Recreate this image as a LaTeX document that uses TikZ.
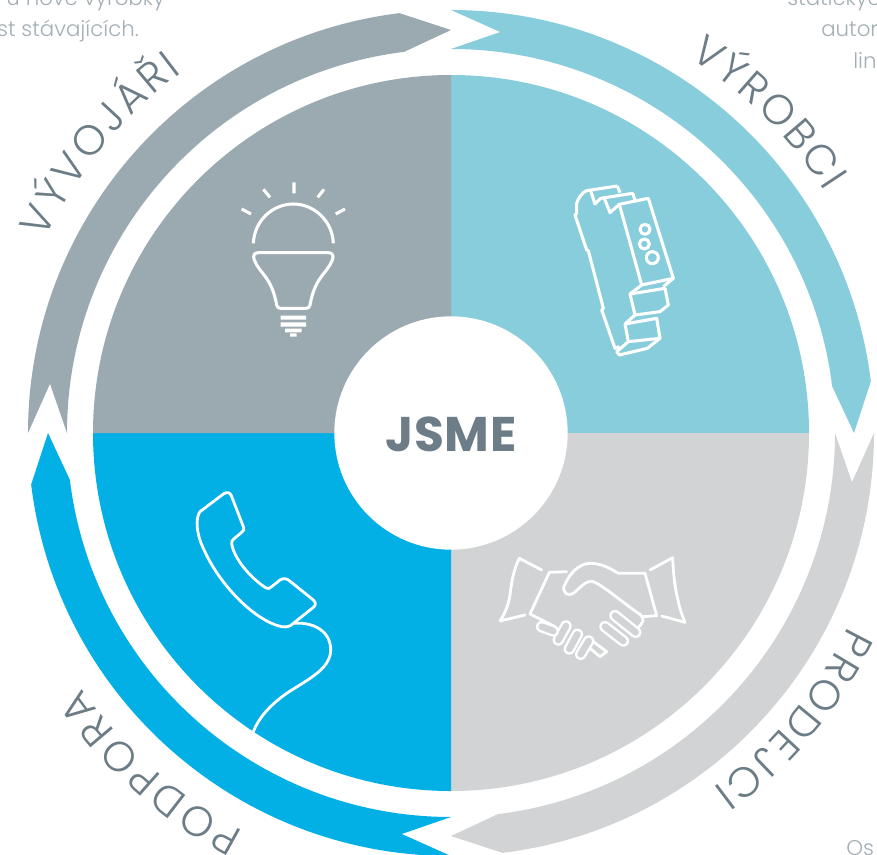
\documentclass[tikz,border=0pt]{standalone}
\usepackage{fontspec}
\usetikzlibrary{decorations.text}
\newfontfamily\lightf{Poppins}[UprightFont=* Light]
\newfontfamily\boldf{Poppins}[UprightFont=* Bold,LetterSpace=1.5]
\newcommand{\curvefont}{\lightf\fontsize{31.5}{34}\selectfont}
\definecolor{cgrey}{HTML}{9BAAB0}
\definecolor{cteal}{HTML}{88CDDB}
\definecolor{cblue}{HTML}{03B0E6}
\definecolor{clight}{HTML}{D1D3D4}
\definecolor{ctext}{HTML}{6C7D87}
\definecolor{cpara}{HTML}{A3AFB5}
\tikzset{
  icon/.style={draw=white,line width=2.3pt,line join=round,line cap=butt},
  iconthin/.style={draw=white,line width=2.1pt,line join=round,line cap=round},
  para/.style={inner sep=0pt,text=cpara,font=\lightf\fontsize{16}{18}\selectfont},
  curved/.style={decorate,decoration={text along path,text color=ctext,text align={fit to path},text={#1}}},
  finger/.style={draw=white,line width=8.6pt,line cap=round},
  fingerin/.style={draw=clight,line width=5pt,line cap=round},
}
\begin{document}
\begin{tikzpicture}[x=.75pt,y=-.75pt]
\useasboundingbox (0,0) rectangle (877,855);
\clip (0,0) rectangle (877,855);
\fill[white] (0,0) rectangle (877,855);
% paragraph fragments
\node[para,anchor=base east] (p1) at (165,6) {u nové výrobky};
\node[para,anchor=base east] (p2) at (139,37) {st stávajících.};
\node[para,anchor=base west] (p3) at (787,6) {statickýc};
\node[para,anchor=base west] (p4) at (821,37) {autor};
\node[para,anchor=base west] (p5) at (853,69) {lin};
\node[para,anchor=base west] (p6) at (846,855) {Os};
\begin{scope}[shift={(451,433)},y=.75pt]
  % quadrants
  \fill[cteal] (0,0) -- (90:358) arc (90:0:358) -- cycle;
  \fill[clight] (0,0) -- (0:358) arc (0:-90:358) -- cycle;
  \fill[cblue] (0,0) -- (-90:358) arc (-90:-180:358) -- cycle;
  \fill[cgrey] (0,0) -- (180:358) arc (180:90:358) -- cycle;
  % ring arrows
  \foreach \a/\c in {90/cteal,0/clight,-90/cblue,180/cgrey}{
    \fill[\c,rotate=\a] (0:423) arc (0:-83:423) -- (-90:403) -- (-83:384) arc (-83:0:384) -- (-7:404) -- cycle;
  }
  % curved labels
  \path[curved={|\curvefont|VÝVOJÁŘI}] (154.5:450) arc (154.5:126.7:450);
  \path[curved={|\curvefont|VÝROBCI}] (57.6:445) arc (57.6:32.8:445);
  \path[curved={|\curvefont|PRODEJCI}] (-26:442) arc (-26:-53.6:442);
  \path[curved={|\curvefont|PODPORA}] (242.5:449) arc (242.5:214.6:449);
\end{scope}
% centre
\node[circle,fill=white,minimum size=175pt,inner sep=0pt,text=ctext,font=\boldf\fontsize{36.5}{40}\selectfont] (jsme) at (451,433) {\raisebox{-14pt}[0pt][0pt]{JSME}};
% bulb
\begin{scope}[shift={(220,170)},scale=1/3]
  \draw[icon] (222,37) -- (222,70) (130,58) -- (150,82) (312,58) -- (293,82) (65,117) -- (93,132) (375,117) -- (347,132);
  \draw[icon] (100,220) .. controls (103,150) and (160,102) .. (220,102) .. controls (280,102) and (337,150) .. (340,220);
  \draw[icon] (115,248) -- (325,248) .. controls (338,248) and (342,258) .. (337,270)
     .. controls (322,310) and (285,320) .. (270,405) .. controls (268,412) and (265,415) .. (258,415)
     -- (182,415) .. controls (175,415) and (172,412) .. (170,405)
     .. controls (155,320) and (118,310) .. (103,270) .. controls (98,258) and (102,248) .. (115,248) -- cycle;
  \fill[white] (182,437) rectangle (258,449) (182,457) rectangle (258,470) (195,476) rectangle (245,487) (210,490) rectangle (230,500);
\end{scope}
% din module
\begin{scope}[shift={(560,170)},scale=1/3]
  \draw[icon] (172,48) -- (80,62) .. controls (65,68) and (55,85) .. (50,100) -- (50,130) -- (45,135) -- (80,240) -- (85,242) -- (130,415) -- (125,420) -- (165,535) -- (178,530);
  \draw[icon] (92,62) -- (105,102) -- (122,85) -- (218,70) -- (225,90);
  \draw[icon] (172,48) -- (180,68);
  \draw[icon] (133,85) -- (150,128) -- (178,103);
  \draw[icon] (178,103) -- (265,85) -- (340,325) -- (245,345) -- cycle;
  \draw[icon] (340,325) -- (310,350) (245,345) -- (210,372);
  \draw[icon] (210,372) -- (315,355) -- (325,405) -- (300,425) -- (225,435) -- cycle;
  \draw[icon] (225,435) -- (195,462) -- (205,515) -- (170,545) -- (178,555) -- (262,535) -- (300,505) -- (290,445) -- (195,462);
  \draw[icon] (205,515) -- (300,505);
  \draw[icon] (255,178) circle (15);
  \draw[icon] (253,222) circle (15);
  \draw[icon] (277,263) circle (18);
\end{scope}
% telephone
\begin{scope}[shift={(180,480)},scale=1/3]
  \draw[iconthin] (60,95) -- (130,42) .. controls (140,35) and (150,37) .. (154,47) -- (190,140)
    .. controls (193,150) and (190,153) .. (185,157) -- (160,178) .. controls (152,185) and (155,195) .. (160,210)
    .. controls (175,250) and (215,295) .. (255,322) .. controls (265,328) and (270,325) .. (275,320)
    -- (300,300) .. controls (310,294) and (320,295) .. (328,302) -- (400,360)
    .. controls (408,368) and (408,375) .. (400,382) -- (340,430) .. controls (330,440) and (320,442) .. (305,440)
    .. controls (230,425) and (120,320) .. (70,205) .. controls (50,165) and (45,115) .. (60,95) -- cycle;
  \draw[iconthin] (340,430) .. controls (395,425) and (455,450) .. (452,515)
    .. controls (447,570) and (380,600) .. (320,640) .. controls (270,675) and (235,715) .. (220,755);
\end{scope}
% handshake
\begin{scope}[shift={(490,545)},scale=1/3]
  \draw[iconthin] (155,75) -- (88,40) .. controls (70,75) and (65,110) .. (60,150) .. controls (55,180) and (45,205) .. (30,228) -- (105,210);
  \draw[iconthin] (480,75) -- (548,38) .. controls (550,90) and (555,130) .. (565,170) .. controls (570,195) and (578,215) .. (585,232) -- (515,213);
  \draw[iconthin] (230,80) -- (178,82) -- (120,207) -- (195,245);
  \draw[iconthin] (465,85) -- (385,85) .. controls (360,70) and (335,55) .. (300,55) .. controls (265,55) and (235,90) .. (222,125)
     .. controls (218,145) and (235,155) .. (250,145) .. controls (270,130) and (285,105) .. (310,110)
     .. controls (345,125) and (400,175) .. (450,208) .. controls (465,220) and (462,235) .. (440,250);
  \draw[iconthin] (465,85) -- (500,212) -- (460,215);
  \draw[finger] (375,212) -- (437,262);
  \draw[fingerin] (375,212) -- (437,262);
  \draw[finger] (345,245) -- (400,288);
  \draw[fingerin] (345,245) -- (400,288);
  \draw[finger] (228,243) -- (205,285);
  \draw[fingerin] (228,243) -- (205,285);
  \draw[finger] (262,268) -- (238,312);
  \draw[fingerin] (262,268) -- (238,312);
  \draw[finger] (296,288) -- (272,328);
  \draw[fingerin] (296,288) -- (272,328);
  \draw[finger] (155,245) -- (190,258);
  \draw[fingerin] (155,245) -- (190,258);
  \draw[iconthin] (310,290) -- (350,320) -- (330,335) -- (300,310);
\end{scope}
\end{tikzpicture}
\end{document}
